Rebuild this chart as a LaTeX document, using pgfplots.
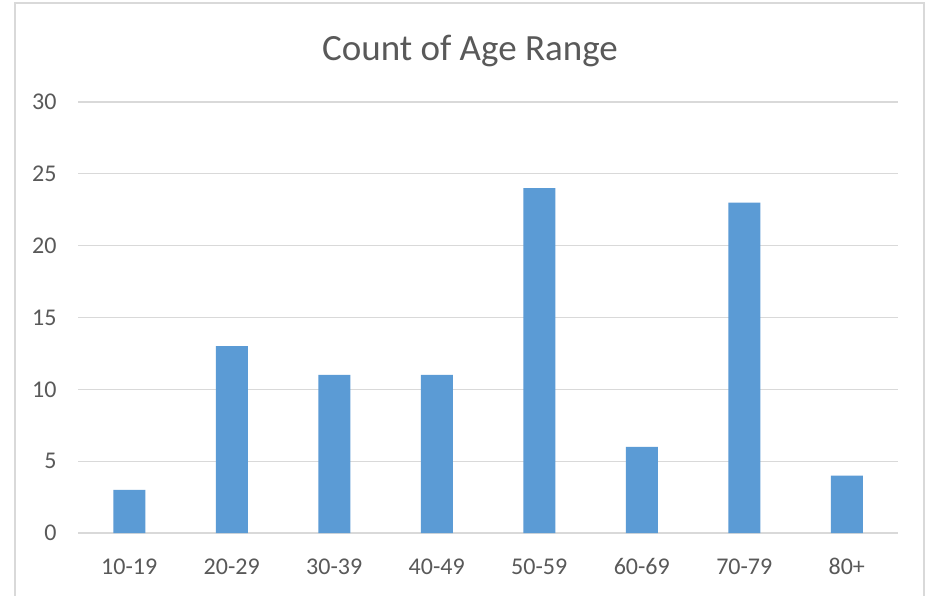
\documentclass[border=0pt]{standalone}
\usepackage{pgfplots}
\pgfplotsset{compat=1.18}
\usepackage{fontspec}
\setmainfont{Carlito}
\definecolor{barblue}{HTML}{5B9BD5}
\definecolor{gridgray}{HTML}{D9D9D9}
\definecolor{textgray}{HTML}{595959}
\begin{document}
\begin{tikzpicture}[x=1pt,y=1pt]
  \useasboundingbox (0,0) rectangle (932,595);
  \fill[white] (0,0) rectangle (932,595);
  \draw[gridgray, line width=1.3pt] (15,-5) -- (15,592) -- (924,592) -- (924,-5);
  \node[text=textgray, font=\fontsize{37}{44}\selectfont] at (470,544) {Count of Age Range};
  \begin{axis}[
    at={(78pt,62pt)}, anchor=south west,
    scale only axis,
    width=820pt, height=431pt,
    ybar, bar width=32pt,
    xmin=-0.5, xmax=7.5,
    ymin=0, ymax=30,
    ytick={0,5,...,30},
    xtick=data,
    xticklabels={10-19,20-29,30-39,40-49,50-59,60-69,70-79,80+},
    axis line style={draw=none},
    major tick length=0pt,
    ymajorgrids, grid style={gridgray, line width=1.2pt},
    tick label style={text=textgray, font=\fontsize{24}{29}\selectfont},
    /pgf/number format/assume math mode=true,
    yticklabel style={xshift=-18pt},
    xticklabel style={yshift=-22pt},
  ]
    \addplot[fill=barblue, draw=none] coordinates {
      (0,3) (1,13) (2,11) (3,11) (4,24) (5,6) (6,23) (7,4)
    };
  \end{axis}
\end{tikzpicture}
\end{document}
